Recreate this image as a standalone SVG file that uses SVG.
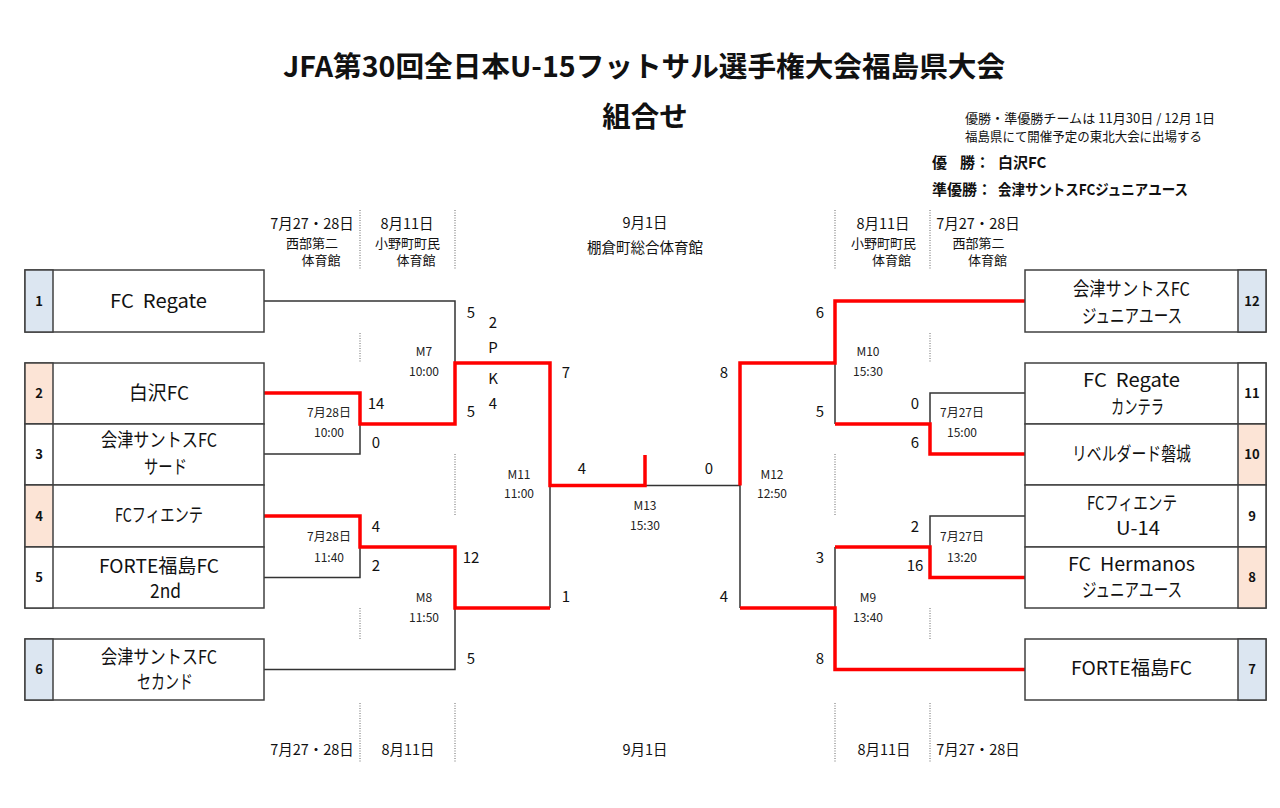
<svg xmlns="http://www.w3.org/2000/svg" width="1280" height="808" viewBox="0 0 1280 808">
<style>
text{font-family:"Noto Sans CJK JP","Noto Sans",sans-serif;fill:#111;}
.title{font-size:28.5px;font-weight:bold;}
.ttc{font-size:28.5px;font-weight:bold;text-anchor:middle;}
.note{font-size:13px;}
.win{font-size:15px;font-weight:bold;}
.hd{font-size:14.5px;text-anchor:middle;}
.hs{font-size:13px;text-anchor:middle;}
.nm{font-size:19px;white-space:pre;}
.no{font-size:13px;font-weight:bold;text-anchor:middle;}
.sc{font-size:15px;text-anchor:middle;}
.ml{font-size:12px;text-anchor:middle;fill:#222;}
.box{fill:#fff;stroke:#404040;stroke-width:1.5;}
.blue{fill:#dce6f1;stroke:#404040;stroke-width:1.5;}
.peach{fill:#fce4d6;stroke:#404040;stroke-width:1.5;}
.wc{fill:#fff;stroke:#404040;stroke-width:1.5;}
.blk{fill:none;stroke:#333;stroke-width:1.5;}
.red{fill:none;stroke:#ff0000;stroke-width:3.5;stroke-linejoin:miter;}
.dot{stroke:#666;stroke-width:1;stroke-dasharray:1 1.5;}
</style>
<rect width="1280" height="808" fill="#fff"/>

<g id="title">
<text class="title" x="283" y="77" textLength="722" lengthAdjust="spacingAndGlyphs">JFA第30回全日本U-15フットサル選手権大会福島県大会</text>
<text class="ttc" x="645" y="127">組合せ</text>
</g>

<g id="notes">
<text class="note" x="965" y="122.5" textLength="250" lengthAdjust="spacingAndGlyphs">優勝・準優勝チームは 11月30日 / 12月 1日</text>
<text class="note" x="965" y="141" textLength="237" lengthAdjust="spacingAndGlyphs">福島県にて開催予定の東北大会に出場する</text>
<text class="win" x="932" y="168">優</text>
<text class="win" x="960" y="168">勝：</text>
<text class="win" x="998" y="168">白沢FC</text>
<text class="win" x="932" y="194.5">準優勝：</text>
<text class="win" x="998" y="194.5" textLength="190" lengthAdjust="spacingAndGlyphs">会津サントスFCジュニアユース</text>
</g>

<g id="header">
<text class="hd" x="312" y="229">7月27・28日</text>
<text class="hs" x="312" y="248">西部第二</text>
<text class="hs" x="321" y="265">体育館</text>
<text class="hd" x="407" y="229">8月11日</text>
<text class="hs" x="407.5" y="248">小野町町民</text>
<text class="hs" x="416" y="265">体育館</text>
<text class="hd" x="645" y="228">9月1日</text>
<text class="hd" x="645" y="253">棚倉町総合体育館</text>
<text class="hd" x="883" y="229">8月11日</text>
<text class="hs" x="883.5" y="248">小野町町民</text>
<text class="hs" x="891.5" y="265">体育館</text>
<text class="hd" x="978" y="229">7月27・28日</text>
<text class="hs" x="978.5" y="248">西部第二</text>
<text class="hs" x="987.5" y="265">体育館</text>
<text class="hd" x="312" y="755">7月27・28日</text>
<text class="hd" x="408" y="755">8月11日</text>
<text class="hd" x="645" y="755">9月1日</text>
<text class="hd" x="884" y="755">8月11日</text>
<text class="hd" x="978" y="755">7月27・28日</text>
</g>

<g id="dividers">
<line class="dot" x1="360" y1="210" x2="360" y2="270"/>
<line class="dot" x1="455" y1="210" x2="455" y2="270"/>
<line class="dot" x1="835" y1="210" x2="835" y2="270"/>
<line class="dot" x1="930" y1="210" x2="930" y2="270"/>
<line class="dot" x1="360" y1="333" x2="360" y2="363"/>
<line class="dot" x1="930" y1="333" x2="930" y2="363"/>
<line class="dot" x1="455" y1="454" x2="455" y2="516"/>
<line class="dot" x1="835" y1="454" x2="835" y2="516"/>
<line class="dot" x1="360" y1="608" x2="360" y2="639"/>
<line class="dot" x1="930" y1="608" x2="930" y2="639"/>
<line class="dot" x1="360" y1="703" x2="360" y2="762"/>
<line class="dot" x1="455" y1="703" x2="455" y2="762"/>
<line class="dot" x1="835" y1="703" x2="835" y2="762"/>
<line class="dot" x1="930" y1="703" x2="930" y2="762"/>
</g>

<g id="connectors">
<path class="blk" d="M264,301 H455 V363"/>
<path class="blk" d="M264,454 H360 V424"/>
<path class="blk" d="M264,577.5 H360 V547"/>
<path class="blk" d="M264,669.5 H455 V608"/>
<path class="blk" d="M550,485.5 V608"/>
<path class="blk" d="M645,485.5 H740 V608"/>
<path class="blk" d="M835,363 V424"/>
<path class="blk" d="M1025,393 H930 V424"/>
<path class="blk" d="M1025,516 H930 V547"/>
<path class="blk" d="M835,547 V608"/>
<path class="red" d="M264,393 H360 V424 H455 V363 H550 V485.5 H645 V455"/>
<path class="red" d="M264,516 H360 V547 H455 V608 H550"/>
<path class="red" d="M740,485.5 V363 H835 V301 H1025"/>
<path class="red" d="M1025,454 H930 V424 H835"/>
<path class="red" d="M1025,577.5 H930 V547 H835"/>
<path class="red" d="M1025,669.5 H835 V608 H740"/>
</g>

<g id="scores">
<text class="sc" x="471" y="318">5</text>
<text class="sc" x="493" y="328">2</text>
<text class="sc" x="493" y="353">P</text>
<text class="sc" x="493" y="384">K</text>
<text class="sc" x="493" y="409">4</text>
<text class="sc" x="471" y="417">5</text>
<text class="sc" x="376" y="409">14</text>
<text class="sc" x="376" y="448">0</text>
<text class="sc" x="376" y="532">4</text>
<text class="sc" x="376" y="571">2</text>
<text class="sc" x="471" y="563">12</text>
<text class="sc" x="471" y="664">5</text>
<text class="sc" x="566" y="378">7</text>
<text class="sc" x="566" y="602">1</text>
<text class="sc" x="582" y="474">4</text>
<text class="sc" x="709" y="474">0</text>
<text class="sc" x="724" y="378">8</text>
<text class="sc" x="724" y="602">4</text>
<text class="sc" x="820" y="318">6</text>
<text class="sc" x="820" y="417">5</text>
<text class="sc" x="915" y="409">0</text>
<text class="sc" x="915" y="448">6</text>
<text class="sc" x="915" y="532">2</text>
<text class="sc" x="915" y="571">16</text>
<text class="sc" x="820" y="563">3</text>
<text class="sc" x="820" y="664">8</text>
</g>

<g id="matches">
<text class="ml" x="424" y="356">M7</text>
<text class="ml" x="424" y="376">10:00</text>
<text class="ml" x="329" y="417">7月28日</text>
<text class="ml" x="329" y="437">10:00</text>
<text class="ml" x="329" y="541">7月28日</text>
<text class="ml" x="329" y="562">11:40</text>
<text class="ml" x="424" y="602">M8</text>
<text class="ml" x="424" y="622">11:50</text>
<text class="ml" x="519" y="479">M11</text>
<text class="ml" x="519" y="498">11:00</text>
<text class="ml" x="645" y="510">M13</text>
<text class="ml" x="645" y="530">15:30</text>
<text class="ml" x="772" y="479">M12</text>
<text class="ml" x="772" y="498">12:50</text>
<text class="ml" x="868" y="356">M10</text>
<text class="ml" x="868" y="376">15:30</text>
<text class="ml" x="962" y="417">7月27日</text>
<text class="ml" x="962" y="437">15:00</text>
<text class="ml" x="962" y="541">7月27日</text>
<text class="ml" x="962" y="562">13:20</text>
<text class="ml" x="868" y="602">M9</text>
<text class="ml" x="868" y="622">13:40</text>
</g>

<g id="team-1">
<rect class="box" x="25" y="270" width="239" height="62"/>
<rect class="blue" x="25" y="270" width="28" height="62"/>
<text class="no" x="39" y="305.6">1</text>
<text class="nm" x="110" y="307.5" textLength="97" lengthAdjust="spacingAndGlyphs">FC  Regate</text>
</g>
<g id="team-2">
<rect class="box" x="25" y="363" width="239" height="61"/>
<rect class="peach" x="25" y="363" width="28" height="61"/>
<text class="no" x="39" y="397.6">2</text>
<text class="nm" x="129" y="399.5" textLength="60" lengthAdjust="spacingAndGlyphs">白沢FC</text>
</g>
<g id="team-3">
<rect class="box" x="25" y="424" width="239" height="61"/>
<rect class="wc" x="25" y="424" width="28" height="61"/>
<text class="no" x="39" y="458.6">3</text>
<text class="nm" x="101" y="447" textLength="116" lengthAdjust="spacingAndGlyphs">会津サントスFC</text>
<text class="nm" x="144" y="473.5" textLength="43" lengthAdjust="spacingAndGlyphs">サード</text>
</g>
<g id="team-4">
<rect class="box" x="25" y="485" width="239" height="62"/>
<rect class="peach" x="25" y="485" width="28" height="62"/>
<text class="no" x="39" y="520.6">4</text>
<text class="nm" x="115" y="521.5" textLength="88" lengthAdjust="spacingAndGlyphs">FCフィエンテ</text>
</g>
<g id="team-5">
<rect class="box" x="25" y="547" width="239" height="61"/>
<rect class="wc" x="25" y="547" width="28" height="61"/>
<text class="no" x="39" y="582">5</text>
<text class="nm" x="99" y="572.5" textLength="120" lengthAdjust="spacingAndGlyphs">FORTE福島FC</text>
<text class="nm" x="150" y="597.5" textLength="31" lengthAdjust="spacingAndGlyphs">2nd</text>
</g>
<g id="team-6">
<rect class="box" x="25" y="639" width="239" height="61"/>
<rect class="blue" x="25" y="639" width="28" height="61"/>
<text class="no" x="39" y="674">6</text>
<text class="nm" x="101" y="663.5" textLength="116" lengthAdjust="spacingAndGlyphs">会津サントスFC</text>
<text class="nm" x="137" y="688.5" textLength="56" lengthAdjust="spacingAndGlyphs">セカンド</text>
</g>

<g id="team-12">
<rect class="box" x="1025" y="270" width="241" height="62"/>
<rect class="blue" x="1238" y="270" width="28" height="62"/>
<text class="no" x="1252" y="305.6">12</text>
<text class="nm" x="1073" y="295.5" textLength="117" lengthAdjust="spacingAndGlyphs">会津サントスFC</text>
<text class="nm" x="1082" y="322.5" textLength="100" lengthAdjust="spacingAndGlyphs">ジュニアユース</text>
</g>
<g id="team-11">
<rect class="box" x="1025" y="363" width="241" height="61"/>
<rect class="wc" x="1238" y="363" width="28" height="61"/>
<text class="no" x="1252" y="397.6">11</text>
<text class="nm" x="1083" y="386.5" textLength="97" lengthAdjust="spacingAndGlyphs">FC  Regate</text>
<text class="nm" x="1111" y="413.5" textLength="53" lengthAdjust="spacingAndGlyphs">カンテラ</text>
</g>
<g id="team-10">
<rect class="box" x="1025" y="424" width="241" height="61"/>
<rect class="peach" x="1238" y="424" width="28" height="61"/>
<text class="no" x="1252" y="458.6">10</text>
<text class="nm" x="1072" y="460.5" textLength="119" lengthAdjust="spacingAndGlyphs">リベルダード磐城</text>
</g>
<g id="team-9">
<rect class="box" x="1025" y="485" width="241" height="62"/>
<rect class="wc" x="1238" y="485" width="28" height="62"/>
<text class="no" x="1252" y="520.6">9</text>
<text class="nm" x="1087" y="509.5" textLength="90" lengthAdjust="spacingAndGlyphs">FCフィエンテ</text>
<text class="nm" x="1116" y="534.5" textLength="44" lengthAdjust="spacingAndGlyphs">U-14</text>
</g>
<g id="team-8">
<rect class="box" x="1025" y="547" width="241" height="61"/>
<rect class="peach" x="1238" y="547" width="28" height="61"/>
<text class="no" x="1252" y="582">8</text>
<text class="nm" x="1068" y="570.5" textLength="127" lengthAdjust="spacingAndGlyphs">FC  Hermanos</text>
<text class="nm" x="1082" y="596.5" textLength="100" lengthAdjust="spacingAndGlyphs">ジュニアユース</text>
</g>
<g id="team-7">
<rect class="box" x="1025" y="639" width="241" height="61"/>
<rect class="blue" x="1238" y="639" width="28" height="61"/>
<text class="no" x="1252" y="674">7</text>
<text class="nm" x="1071" y="674.5" textLength="121" lengthAdjust="spacingAndGlyphs">FORTE福島FC</text>
</g>
</svg>
